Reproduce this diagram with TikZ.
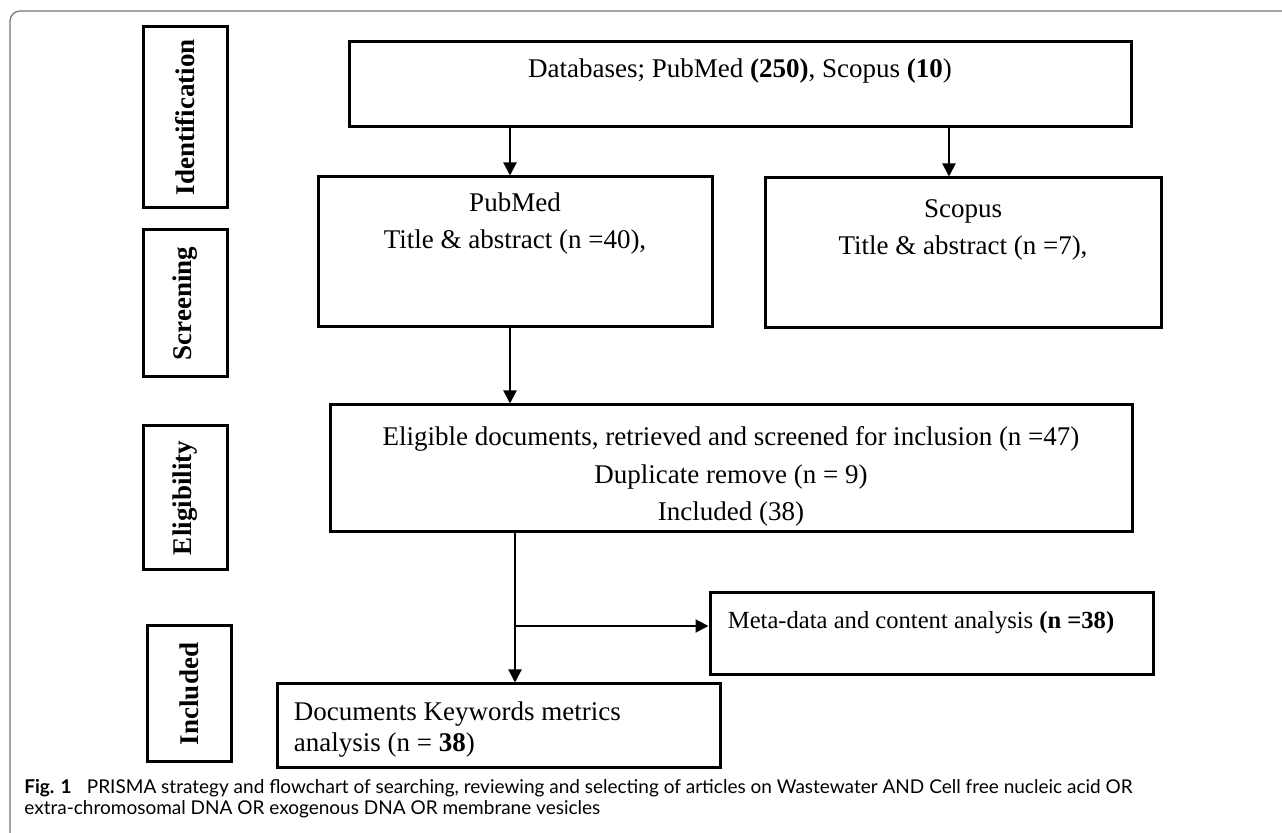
\documentclass[tikz,border=0pt]{standalone}
\usepackage{fontspec}
\setmainfont{Liberation Serif}
\newfontfamily\capfont{Lato}
\usepackage{tikz}
\usetikzlibrary{shapes,arrows.meta,positioning}

\begin{document}
\begin{tikzpicture}[x=0.5pt, y=-0.5pt,
    box/.style={rectangle, draw, line width=1.5pt, inner sep=0pt},
    stage/.style={box, rotate=90, minimum height=42pt, font=\bfseries\fontsize{13.5}{16}\selectfont},
    txt/.style={inner sep=0pt, align=center, font=\fontsize{13.5}{18.75}\selectfont},
    >={Triangle[width=6.5pt, length=6.5pt]},
    link/.style={->, line width=1pt}]
    \useasboundingbox (0,0) rectangle (1282,833);
    \draw [black!55, line width=0.6pt, rounded corners=5pt] (10,833) -- (10,11) -- (1282,11);

    % Stages
    \node [stage, minimum width=90.5pt] (idlab) at (185,117.5) {Identification};
    \node [stage, minimum width=73.5pt] (scrlab) at (185,303.5) {Screening};
    \node [stage, minimum width=72pt] (eliglab) at (185,498) {Eligibility};
    \node [stage, minimum width=68pt] (incllab) at (189,694) {Included};

    % Nodes
    \node [box, minimum width=391pt, minimum height=42.5pt] (db) at (740,84.5) {};
    \node [box, minimum width=197pt, minimum height=75pt] (pubmed) at (515,252) {};
    \node [box, minimum width=198pt, minimum height=75pt] (scopus) at (963,253) {};
    \node [box, minimum width=401pt, minimum height=63.5pt] (elig) at (731,468.5) {};
    \node [box, minimum width=221.5pt, minimum height=41pt] (meta) at (931.5,634) {};
    \node [box, minimum width=221.5pt, minimum height=42pt] (docs) at (498.5,726) {};

    % Texts
    \node [txt] (dbtxt) at ([yshift=-15.5pt]db.north) {Databases; PubMed \textbf{(250)}, Scopus \textbf{(10})};
    \node [txt] (pubtxt) at ([yshift=-24pt]pubmed.north) {PubMed\\Title \& abstract (n =40),};
    \node [txt] (scotxt) at ([yshift=-26.75pt]scopus.north) {Scopus\\Title \& abstract (n =7),};
    \node [txt] (eligtxt) at ([yshift=-36.5pt]elig.north) {Eligible documents, retrieved and screened for inclusion (n =47)\\Duplicate remove (n = 9)\\Included (38)};
    \node [txt, anchor=west, font=\fontsize{12.3}{15}\selectfont] (metatxt) at ([xshift=9.5pt, yshift=-15.5pt]meta.north west) {Meta-data and content analysis \textbf{(n =38)}};
    \node [txt, anchor=west, align=left, font=\fontsize{13.5}{15.5}\selectfont] (docstxt) at ([xshift=9pt, yshift=-23.5pt]docs.north west) {Documents Keywords metrics\\analysis (n = \textbf{38})};

    % Path
    \coordinate (pubin) at ([xshift=-2.5pt]pubmed.north);
    \coordinate (scoin) at ([xshift=-7pt]scopus.north);
    \coordinate (pubout) at ([xshift=-2.5pt]pubmed.south);
    \coordinate (split) at (515,626);
    \draw [link] (pubin |- db.south) -- (pubin);
    \draw [link] (scoin |- db.south) -- (scoin);
    \draw [link] (pubout) -- (pubout |- elig.north);
    \draw [link] (split |- elig.south) -- (split |- docs.north);
    \draw [link] (split) -- (split -| meta.west);

    % Caption
    \node [anchor=west, inner sep=0pt, align=left, font=\capfont\fontsize{9.5}{10.5}\selectfont] (caption) at (24,799)
        {\textbf{Fig. 1}\hspace{0.8em}PRISMA strategy and flowchart of searching, reviewing and selecting of articles on Wastewater AND Cell free nucleic acid OR\\extra-chromosomal DNA OR exogenous DNA OR membrane vesicles};
\end{tikzpicture}
\end{document}
